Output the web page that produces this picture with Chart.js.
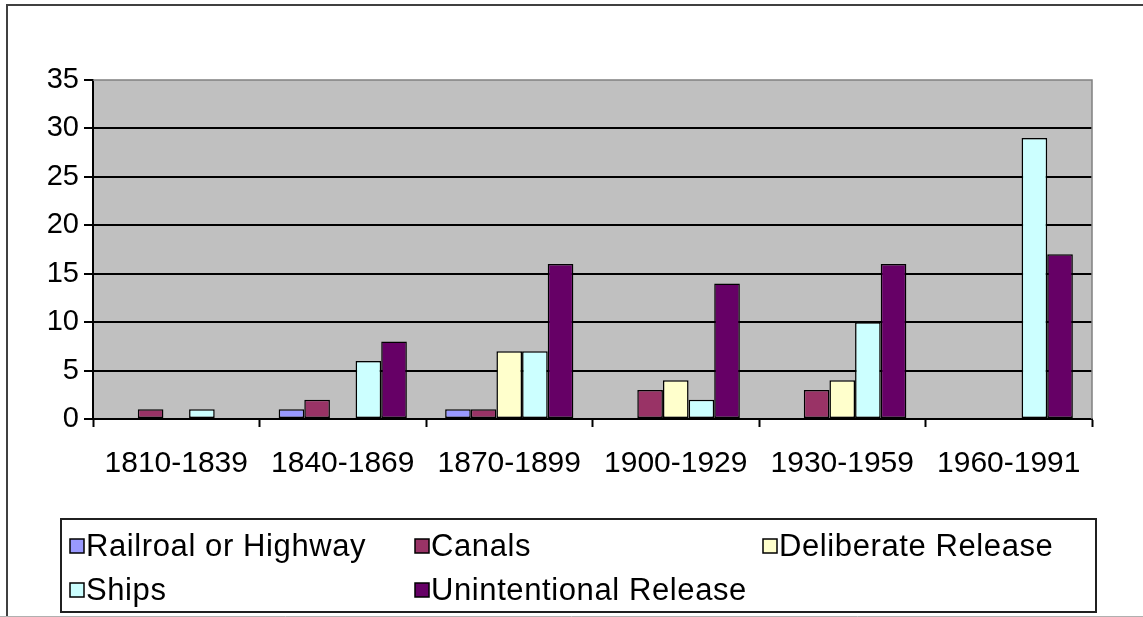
<!DOCTYPE html>
<html>
<head>
<meta charset="utf-8">
<script src="https://cdn.jsdelivr.net/npm/chart.js@4"></script>
<style>
  html, body { margin: 0; padding: 0; background: #ffffff; }
  #wrap { position: relative; width: 1143px; height: 617px; }
  canvas { display: block; }
</style>
</head>
<body>
<div id="wrap"><canvas id="c" width="1143" height="617"></canvas></div>
<script>
// ---- data ----
const categories = ["1810-1839", "1840-1869", "1870-1899", "1900-1929", "1930-1959", "1960-1991"];
const seriesNames = ["Railroal or Highway", "Canals", "Deliberate Release", "Ships", "Unintentional Release"];
const railroad     = [null, 1, 1, null, null, null];
const canals       = [1, 2, 1, 3, 3, null];
const deliberate   = [null, null, 7, 4, 4, null];
const ships        = [1, 6, 7, 2, 10, 29];
const unintentional = [null, 8, 16, 14, 16, 17];
const yTicks = [0, 5, 10, 15, 20, 25, 30, 35];

const colors = ["#9999FF", "#993366", "#FFFFCC", "#CCFFFF", "#660066"];
const seriesData = [railroad, canals, deliberate, ships, unintentional];
const FONT = "'Liberation Sans', Arial, sans-serif";

const datasets = seriesNames.map((name, i) => ({
  label: name,
  data: seriesData[i],
  backgroundColor: colors[i],
  borderColor: "#000000",
  borderWidth: 1.5,
  borderSkipped: false,
  categoryPercentage: 0.77,
  barPercentage: 1.0
}));

const framePlugin = {
  id: "frame",
  beforeDraw(chart) {
    const ctx = chart.ctx;
    const a = chart.chartArea;
    ctx.save();
    ctx.fillStyle = "#ffffff";
    ctx.fillRect(0, 0, chart.width, chart.height);
    ctx.fillStyle = "#C0C0C0";
    ctx.fillRect(a.left, a.top, a.right - a.left, a.bottom - a.top);
    ctx.restore();
  },
  afterDraw(chart) {
    const ctx = chart.ctx;
    const a = chart.chartArea;
    ctx.save();
    // plot area gray border top/right
    ctx.strokeStyle = "#808080";
    ctx.lineWidth = 1.5;
    ctx.beginPath();
    ctx.moveTo(a.left, a.top);
    ctx.lineTo(a.right, a.top);
    ctx.lineTo(a.right, a.bottom);
    ctx.stroke();
    // outer frame
    ctx.strokeStyle = "#404040";
    ctx.lineWidth = 2;
    ctx.beginPath();
    ctx.moveTo(7, 617);
    ctx.lineTo(7, 5);
    ctx.lineTo(1143, 5);
    ctx.stroke();
    ctx.strokeStyle = "#b0b0b0";
    ctx.lineWidth = 1;
    ctx.beginPath();
    ctx.moveTo(0, 616.5);
    ctx.lineTo(1143, 616.5);
    ctx.stroke();
    // legend box
    ctx.strokeStyle = "#202020";
    ctx.lineWidth = 2;
    ctx.strokeRect(61, 519, 1035, 93);
    // legend items
    const cols = [70, 415, 763];
    const rows = [546, 590];
    ctx.font = "31px " + FONT;
    if ("letterSpacing" in ctx) ctx.letterSpacing = "0.6px";
    ctx.textBaseline = "middle";
    ctx.textAlign = "left";
    chart.data.datasets.forEach((ds, i) => {
      const x = cols[i % 3];
      const y = rows[Math.floor(i / 3)];
      ctx.fillStyle = ds.backgroundColor;
      ctx.fillRect(x, y - 7, 14, 14);
      ctx.strokeStyle = "#000";
      ctx.lineWidth = 1.5;
      ctx.strokeRect(x, y - 7, 14, 14);
      ctx.fillStyle = "#000";
      ctx.fillText(ds.label, x + 16, y + 1);
    });
    ctx.restore();
  }
};

new Chart(document.getElementById("c"), {
  type: "bar",
  data: { labels: categories, datasets: datasets },
  options: {
    responsive: false,
    animation: false,
    layout: { padding: { left: 0, top: 80, right: 51, bottom: 0 } },
    plugins: {
      legend: { display: false },
      tooltip: { enabled: false }
    },
    scales: {
      x: {
        grid: {
          offset: true,
          drawOnChartArea: false,
          drawTicks: true,
          tickLength: 8,
          tickColor: "#000",
          tickWidth: 2
        },
        border: { display: true, color: "#000", width: 2 },
        ticks: {
          color: "#000",
          font: { family: FONT, size: 30 },
          padding: 19,
          maxRotation: 0,
          autoSkip: false
        },
        afterFit(scale) { scale.height = 198; }
      },
      y: {
        min: 0,
        max: 35,
        afterBuildTicks(scale) { scale.ticks = yTicks.map(v => ({ value: v })); },
        grid: {
          color: (c) => (c.tick && (c.tick.value === 35 || c.tick.value === 0)) ? "rgba(0,0,0,0)" : "#000",
          lineWidth: 2,
          drawTicks: true,
          tickLength: 9,
          tickColor: "#000",
          tickWidth: 2
        },
        border: { display: true, color: "#000", width: 2 },
        ticks: {
          color: "#000",
          font: { family: FONT, size: 29 },
          padding: 5
        },
        afterFit(scale) { scale.width = 93; }
      }
    }
  },
  plugins: [framePlugin]
});
</script>
</body>
</html>
